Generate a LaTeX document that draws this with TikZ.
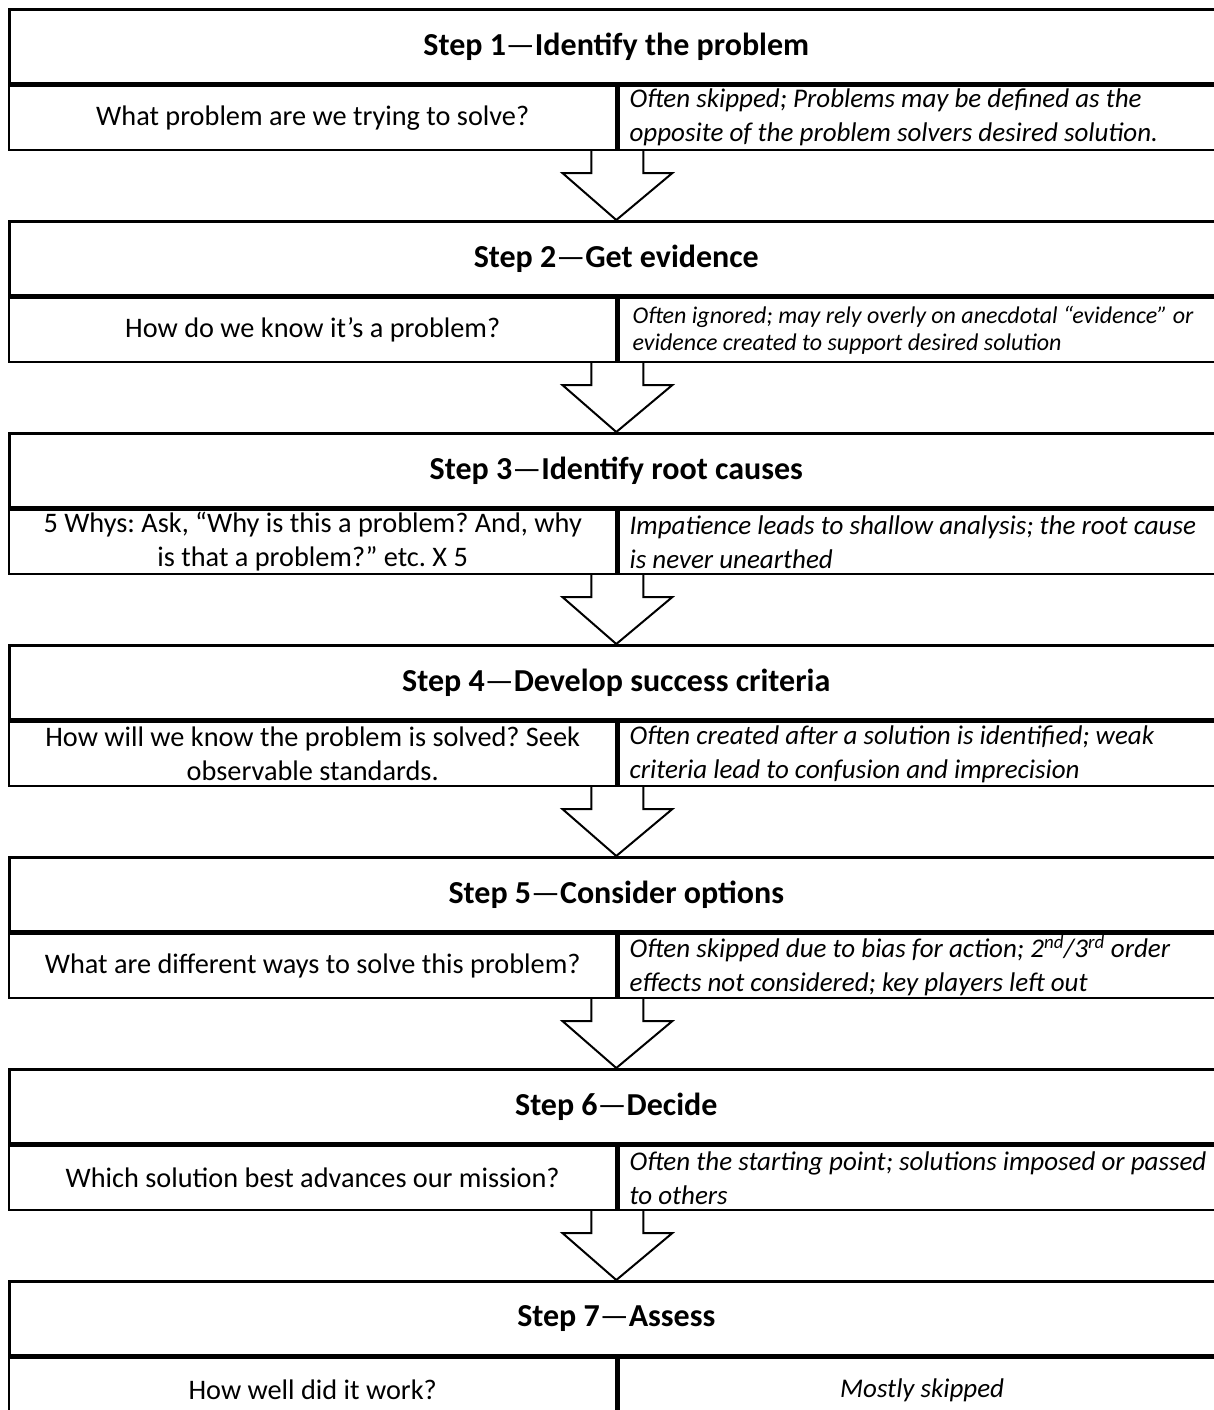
\documentclass[tikz,border=0pt]{standalone}
\usepackage{fontspec}
\setmainfont{Carlito}
\usetikzlibrary{positioning,calc}
\frenchspacing

% hollow block arrow from a box bottom (#1) down to the next box top (#2)
\newcommand\steparrow[2]{%
  \draw[hollow] ($(#1)+(-26,0)$) -- ++(0,22) -- ++(-29,0) -- (#2)
    -- ($(#1)+(55,22)$) -- ++(-29,0) -- ++(0,-22);}

\begin{document}
\begin{tikzpicture}[
  x=1pt, y={(0,-1pt)},
  titlebox/.style={draw, line width=2.6pt, anchor=north west, minimum width=1214pt,
    minimum height=74pt, font=\bfseries\fontsize{32}{36}\selectfont},
  askbox/.style={draw, line width=2.4pt, anchor=north west, minimum width=607pt,
    minimum height=64pt, text width=596pt, inner xsep=5.5pt, inner ysep=1pt,
    align=flush center, font=\fontsize{28.3}{34}\selectfont},
  pitfall/.style={draw, line width=2.4pt, minimum width=607pt, minimum height=64pt,
    text width=585pt, inner xsep=11pt, inner ysep=1pt, align=flush left,
    font=\itshape\fontsize{27}{34}\selectfont},
  hollow/.style={line width=2pt, line join=miter},
]
\useasboundingbox (0,0) rectangle (1214,1410);
\clip (0,0) rectangle (1214,1410);

% step 1
\node[titlebox] (t1) at (8,8) {Step 1{\mdseries—}Identify the problem};
\node[askbox] (a1) at (t1.south west) {What problem are we trying to solve?};
\node[pitfall, right=0pt of a1] (p1) {Often skipped; Problems may be defined as the\\opposite of the problem solvers desired solution.};

% step 2
\node[titlebox] (t2) at (8,220) {Step 2{\mdseries—}Get evidence};
\node[askbox] (a2) at (t2.south west) {How do we know it’s a problem?};
\node[pitfall, right=0pt of a2, inner xsep=14pt, font=\itshape\fontsize{24}{27}\selectfont] (p2) {Often ignored; may rely overly on anecdotal “evidence” or\\evidence created to support desired solution};

% step 3
\node[titlebox] (t3) at (8,432) {Step 3{\mdseries—}Identify root causes};
\node[askbox] (a3) at (t3.south west) {5 Whys: Ask, “Why is this a problem? And, why\\is that a problem?” etc. X 5};
\node[pitfall, right=0pt of a3] (p3) {Impatience leads to shallow analysis; the root cause\\is never unearthed};

% step 4
\node[titlebox] (t4) at (8,644) {Step 4{\mdseries—}Develop success criteria};
\node[askbox] (a4) at (t4.south west) {How will we know the problem is solved? Seek\\observable standards.};
\node[pitfall, right=0pt of a4] (p4) {Often created after a solution is identified; weak\\criteria lead to confusion and imprecision};

% step 5
\node[titlebox] (t5) at (8,856) {Step 5{\mdseries—}Consider options};
\node[askbox] (a5) at (t5.south west) {What are different ways to solve this problem?};
\node[pitfall, right=0pt of a5] (p5) {Often skipped due to bias for action; 2\textsuperscript{nd}/3\textsuperscript{rd} order\\effects not considered; key players left out};

% step 6
\node[titlebox] (t6) at (8,1068) {Step 6{\mdseries—}Decide};
\node[askbox] (a6) at (t6.south west) {Which solution best advances our mission?};
\node[pitfall, right=0pt of a6] (p6) {Often the starting point; solutions imposed or passed\\to others};

% step 7
\node[titlebox] (t7) at (8,1280) {Step 7{\mdseries—}Assess};
\node[askbox] (a7) at (t7.south west) {How well did it work?};
\node[pitfall, right=0pt of a7, align=flush center] (p7) {Mostly skipped};

% arrows between the steps
\steparrow{a1.south east}{t2.north}
\steparrow{a2.south east}{t3.north}
\steparrow{a3.south east}{t4.north}
\steparrow{a4.south east}{t5.north}
\steparrow{a5.south east}{t6.north}
\steparrow{a6.south east}{t7.north}
\end{tikzpicture}
\end{document}
